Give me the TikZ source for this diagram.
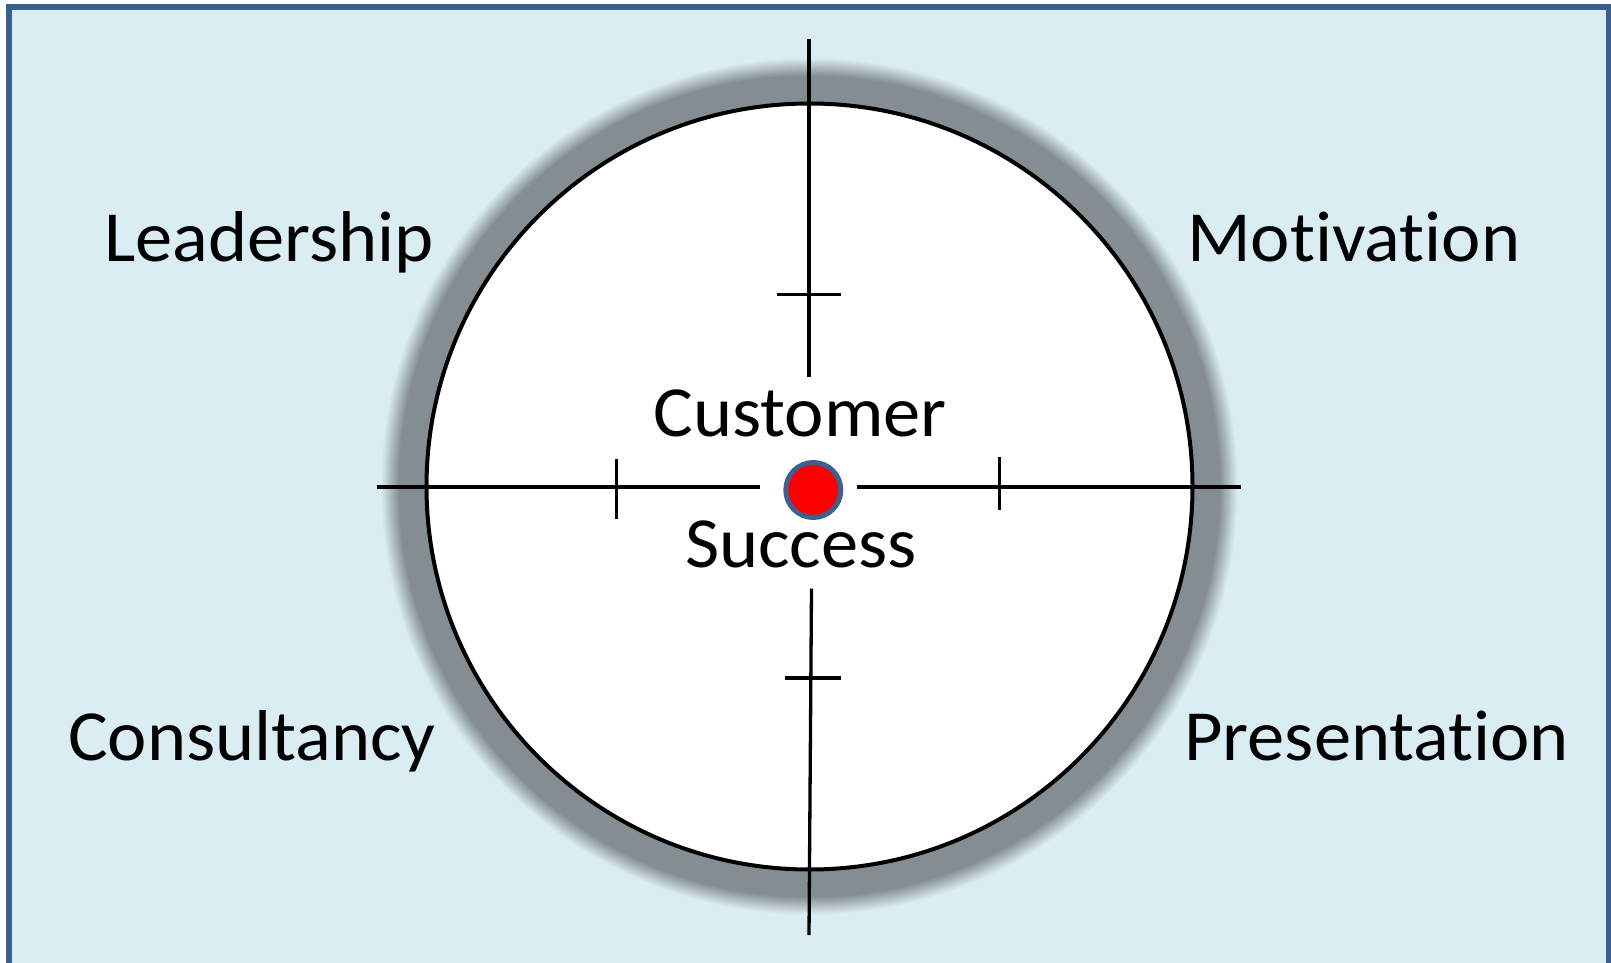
\documentclass[tikz,border=0pt]{standalone}
\usepackage{fontspec}
\setmainfont{Carlito}[Ligatures=NoCommon, FakeStretch=1.035]
\definecolor{bgblue}{HTML}{DAEDF3}
\definecolor{frameblue}{HTML}{3B5F8E}
\definecolor{ringgray}{HTML}{848E92}
\definecolor{dotborder}{HTML}{3F5F8F}
\tikzset{
  label text/.style={inner sep=0pt, font=\fontsize{72}{80}\selectfont},
  crossline/.style={line width=3.3pt, black},
}
\begin{document}
\begin{tikzpicture}[x=1pt,y=-1pt]
\useasboundingbox (0,0) rectangle (1611,963);
\fill[white] (0,0) rectangle (1611,963);
\begin{scope}
  \clip (0,0) rectangle (1611,963);
  \draw[line width=6pt, draw=frameblue, fill=bgblue] (9,7) rectangle (1608.5,990);
\end{scope}
\coordinate (c) at (809.5,486.5);
% soft gray ring
\foreach \i [evaluate=\i as \p using int(\i*100/18)] in {0,...,18}{
  \fill[ringgray!\p!bgblue] (c) circle (429-\i);
}
\fill[white] (c) circle (383);
\draw[line width=4pt, black] (c) circle (383);
% cross hairs
\coordinate (vt1) at (809,39.5);
\coordinate (vt2) at (809,376.5);
\coordinate (vb1) at (811.5,588.5);
\coordinate (vb2) at (809,935);
\coordinate (hl1) at (377,487);
\coordinate (hl2) at (760,487);
\coordinate (hr1) at (857,487);
\coordinate (hr2) at (1241,487);
\coordinate (tt1) at (777,294.7);
\coordinate (tt2) at (841,294.7);
\coordinate (tb1) at (785,678);
\coordinate (tb2) at (840.5,678);
\coordinate (tl1) at (616.5,459);
\coordinate (tl2) at (616.5,519);
\coordinate (tr1) at (999.7,457);
\coordinate (tr2) at (999.7,510);
\draw[crossline] (vt1) -- (vt2);
\draw[crossline] (vb1) -- (vb2);
\draw[crossline] (hl1) -- (hl2);
\draw[crossline] (hr1) -- (hr2);
\draw[crossline] (tt1) -- (tt2);
\draw[crossline] (tb1) -- (tb2);
\draw[crossline] (tl1) -- (tl2);
\draw[crossline] (tr1) -- (tr2);
% center dot
\node[circle, minimum size=55pt, inner sep=0pt, fill=red, draw=dotborder, line width=5pt] (dot) at (813.3,490) {};
% labels
\node[label text, anchor=base east] (lead) at (434,261.7) {Leadership};
\node[label text, anchor=base west] (moti) at (1187,261.7) {Motivation};
\node[label text, anchor=base east] (cons) at (436,760) {Consultancy};
\node[label text, anchor=base west] (pres) at (1184,760) {Presentation};
\node[label text, anchor=base] (cust) at (800,436.7) {Customer};
\node[label text, anchor=base] (succ) at (801,567.5) {Success};
\end{tikzpicture}
\end{document}
